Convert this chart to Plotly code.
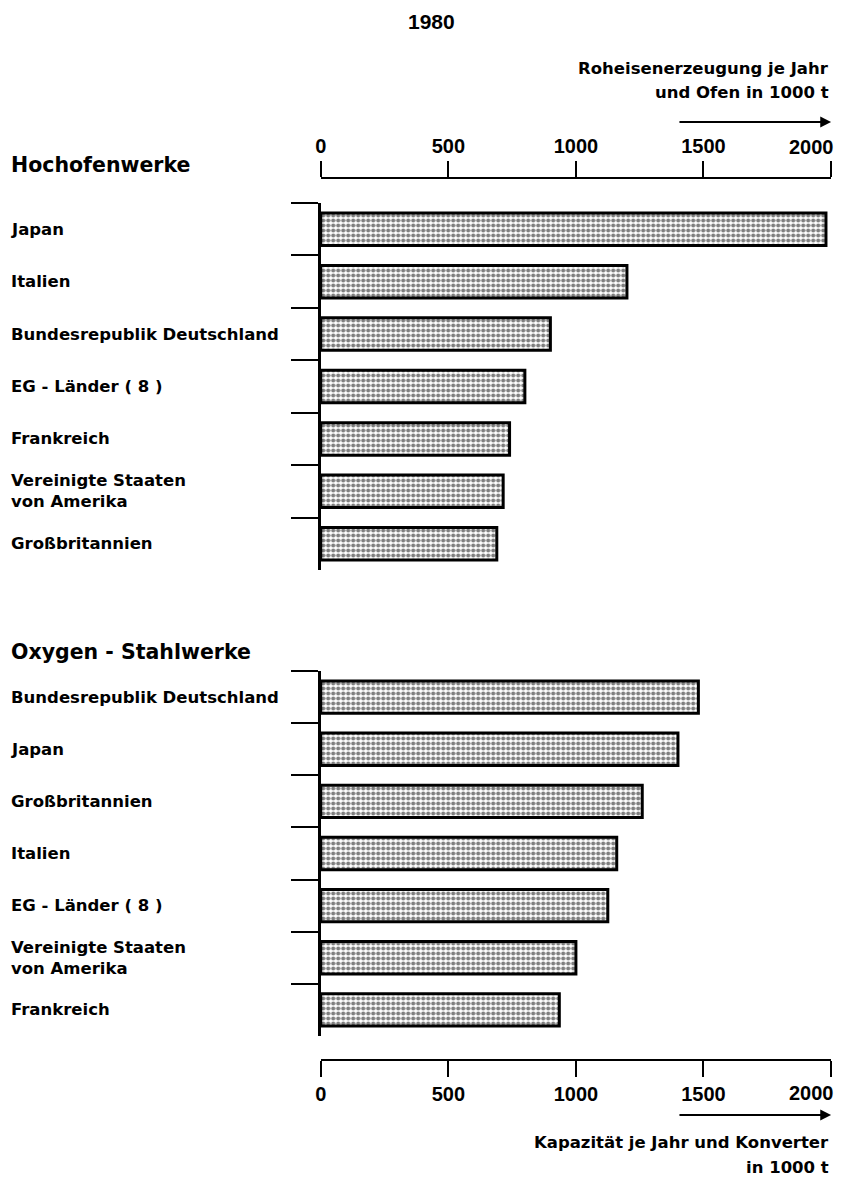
import plotly.graph_objects as go

W, H = 841, 1184

def px_x(p):
    return p / W

def px_y(p):
    return 1 - p / H

title_text = "1980"
section_top = "Hochofenwerke"
section_bottom = "Oxygen - Stahlwerke"

top_categories = ["Japan", "Italien", "Bundesrepublik Deutschland", "EG - Länder ( 8 )",
                  "Frankreich", "Vereinigte Staaten<br>von Amerika", "Großbritannien"]
top_values = [1980, 1200, 900, 800, 740, 715, 690]

bottom_categories = ["Bundesrepublik Deutschland", "Japan", "Großbritannien", "Italien",
                     "EG - Länder ( 8 )", "Vereinigte Staaten<br>von Amerika", "Frankreich"]
bottom_values = [1480, 1400, 1260, 1160, 1125, 1000, 935]

tick_values = [0, 500, 1000, 1500, 2000]
tick_labels = ["0", "500", "1000", "1500", "2000"]

top_axis_title = ["Roheisenerzeugung je Jahr", "und Ofen in 1000 t"]
bottom_axis_title = ["Kapazität je Jahr und Konverter", "in 1000 t"]

LABEL_FONT = dict(family="DejaVu Sans", size=16.5, color="black", weight="bold")
HEAD_FONT = dict(family="DejaVu Sans", size=20.5, color="black", weight="bold")
TICK_FONT = dict(family="Liberation Sans", size=20, color="black", weight="bold")

# the last tick label sits pulled inward (right-aligned to its tick), drawn as annotation
tick_text = list(tick_labels[:-1]) + [""]

def bar_trace(vals, cats, xa, ya):
    return go.Bar(
        x=vals, y=cats, orientation="h", xaxis=xa, yaxis=ya, width=0.62,
        marker=dict(color="white", line=dict(color="black", width=3),
                    pattern=dict(shape=".", fgcolor="black", bgcolor="white",
                                 size=5, solidity=0.55)),
        showlegend=False, hoverinfo="x+y",
    )

fig = go.Figure()
fig.add_trace(bar_trace(top_values, top_categories, "x", "y"))
fig.add_trace(bar_trace(bottom_values, bottom_categories, "x2", "y2"))

xdom = [px_x(317), px_x(831)]

common_x = dict(range=[0, 2000], tickvals=tick_values, ticktext=tick_text,
                ticks="outside", ticklen=16, tickwidth=2, tickcolor="black",
                showline=True, linewidth=2, linecolor="black", showgrid=False,
                zeroline=False, tickfont=TICK_FONT, domain=xdom, anchor="free")
common_y = dict(showticklabels=False, ticks="outside", tickson="boundaries",
                ticklen=27, tickwidth=2, tickcolor="black", showline=True,
                linewidth=2.5, linecolor="black", showgrid=False, zeroline=False,
                range=[6.5, -0.5], type="category")

fig.update_layout(
    width=W, height=H, margin=dict(l=0, r=0, t=0, b=0),
    paper_bgcolor="white", plot_bgcolor="white",
    xaxis=dict(common_x, side="top", position=px_y(178)),
    yaxis=dict(common_y, domain=[px_y(570), px_y(203)], anchor="x",
               categoryorder="array", categoryarray=top_categories),
    xaxis2=dict(common_x, side="bottom", position=px_y(1060)),
    yaxis2=dict(common_y, domain=[px_y(1036), px_y(671)], anchor="x2",
                categoryorder="array", categoryarray=bottom_categories),
    bargap=0.38,
)

ann = []
LX = px_x(3)
for c in top_categories:
    ann.append(dict(x=LX, xref="paper", y=c, yref="y", text=c, showarrow=False,
                    xanchor="left", align="left", font=LABEL_FONT))
for c in bottom_categories:
    ann.append(dict(x=LX, xref="paper", y=c, yref="y2", text=c, showarrow=False,
                    xanchor="left", align="left", font=LABEL_FONT))

ann.append(dict(x=LX, y=px_y(165), xref="paper", yref="paper", text=section_top,
                showarrow=False, xanchor="left", yanchor="middle", font=HEAD_FONT))
ann.append(dict(x=LX, y=px_y(652), xref="paper", yref="paper", text=section_bottom,
                showarrow=False, xanchor="left", yanchor="middle", font=HEAD_FONT))
ann.append(dict(x=px_x(429), y=px_y(22), xref="paper", yref="paper", text=title_text,
                showarrow=False, xanchor="center", yanchor="middle",
                font=dict(family="Liberation Sans", size=21, color="black", weight="bold")))

# last tick label of each x axis
ann.append(dict(x=tick_values[-1], xref="x", y=px_y(147), yref="paper",
                text=tick_labels[-1], showarrow=False, xanchor="right", xshift=5,
                yanchor="middle", font=TICK_FONT))
ann.append(dict(x=tick_values[-1], xref="x2", y=px_y(1093), yref="paper",
                text=tick_labels[-1], showarrow=False, xanchor="right", xshift=5,
                yanchor="middle", font=TICK_FONT))

for i, t in enumerate(top_axis_title):
    ann.append(dict(x=px_x(831), y=px_y(68 + 25 * i), xref="paper", yref="paper", text=t,
                    showarrow=False, xanchor="right", yanchor="middle", font=LABEL_FONT))
for i, t in enumerate(bottom_axis_title):
    ann.append(dict(x=px_x(831), y=px_y(1142 + 25 * i), xref="paper", yref="paper", text=t,
                    showarrow=False, xanchor="right", yanchor="middle", font=LABEL_FONT))

# arrows
ann.append(dict(x=2000, xref="x", y=px_y(122), yref="paper", ax=1400, axref="x",
                ay=0, ayref="pixel", showarrow=True, arrowhead=2, arrowsize=1.2,
                arrowwidth=1.8, arrowcolor="black", text=""))
ann.append(dict(x=2000, xref="x2", y=px_y(1115), yref="paper", ax=1400, axref="x2",
                ay=0, ayref="pixel", showarrow=True, arrowhead=2, arrowsize=1.2,
                arrowwidth=1.8, arrowcolor="black", text=""))

fig.update_layout(annotations=ann)
fig.write_html("out.html", config={"displayModeBar": False},
               post_script="document.documentElement.style.overflow='hidden';"
                           "document.body.style.margin='0';document.body.style.overflow='hidden';")
